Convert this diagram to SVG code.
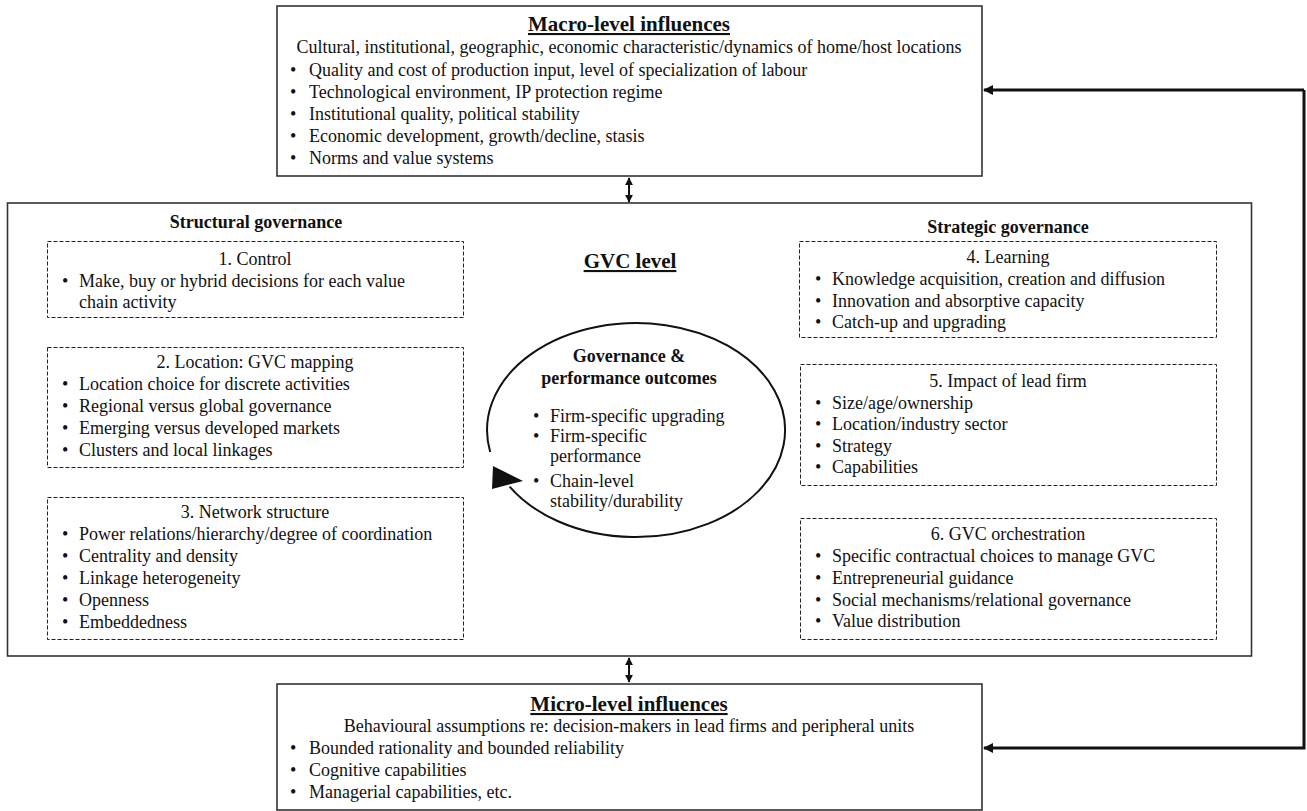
<svg xmlns="http://www.w3.org/2000/svg" width="1307" height="811" viewBox="0 0 1307 811">
<defs>
<style>
text{font-family:"Liberation Serif","Times New Roman",serif;fill:#111;}
.t{font-size:18px;}
.c{text-anchor:middle;}
.h{font-size:21px;font-weight:bold;text-decoration:underline;}
.sh{font-size:18px;font-weight:bold;}
.box{fill:#fff;stroke:#333;stroke-width:1.6;}
.dash{fill:none;stroke:#222;stroke-width:1;stroke-dasharray:4 2;}
.conn{fill:none;stroke:#111;stroke-width:3;}
.dbl{fill:none;stroke:#111;stroke-width:2;}
</style>
<marker id="ah" viewBox="0 0 10 10" refX="9" refY="5" markerUnits="userSpaceOnUse" markerWidth="11" markerHeight="10" orient="auto">
<path d="M0,0 L10,5 L0,10 Z" fill="#111"/>
</marker>
<marker id="sa" viewBox="0 0 10 10" refX="9" refY="5" markerUnits="userSpaceOnUse" markerWidth="8" markerHeight="8" orient="auto-start-reverse">
<path d="M0,0 L10,5 L0,10 Z" fill="#111"/>
</marker>
</defs>
<rect width="1307" height="811" fill="#fff"/>

<g id="macro">
<rect class="box" x="277" y="6" width="705" height="170"/>
<text class="h c" x="629" y="31">Macro-level influences</text>
<text class="t c" x="629" y="53">Cultural, institutional, geographic, economic characteristic/dynamics of home/host locations</text>
<g class="t">
<text x="290" y="76">•</text><text x="309" y="76">Quality and cost of production input, level of specialization of labour</text>
<text x="290" y="98">•</text><text x="309" y="98">Technological environment, IP protection regime</text>
<text x="290" y="120">•</text><text x="309" y="120">Institutional quality, political stability</text>
<text x="290" y="142">•</text><text x="309" y="142">Economic development, growth/decline, stasis</text>
<text x="290" y="164">•</text><text x="309" y="164">Norms and value systems</text>
</g>
</g>

<g id="gvc">
<rect class="box" x="7.5" y="203" width="1244" height="453"/>
<text class="sh c" x="256" y="228">Structural governance</text>
<text class="sh c" x="1008" y="233">Strategic governance</text>
<text class="h c" x="630" y="268">GVC level</text>
</g>

<g id="control">
<rect class="dash" x="47.5" y="241.5" width="416" height="76"/>
<text class="t c" x="255" y="265">1. Control</text>
<text class="t" x="62" y="287">•</text><text class="t" x="79" y="287">Make, buy or hybrid decisions for each value</text>
<text class="t" x="79" y="308">chain activity</text>
</g>

<g id="location">
<rect class="dash" x="47.5" y="347.5" width="416" height="120"/>
<text class="t c" x="255" y="368">2. Location: GVC mapping</text>
<g class="t">
<text x="62" y="390">•</text><text x="79" y="390">Location choice for discrete activities</text>
<text x="62" y="412">•</text><text x="79" y="412">Regional versus global governance</text>
<text x="62" y="434">•</text><text x="79" y="434">Emerging versus developed markets</text>
<text x="62" y="456">•</text><text x="79" y="456">Clusters and local linkages</text>
</g>
</g>

<g id="network">
<rect class="dash" x="47.5" y="497.5" width="416" height="142"/>
<text class="t c" x="255" y="518">3. Network structure</text>
<g class="t">
<text x="62" y="540">•</text><text x="79" y="540">Power relations/hierarchy/degree of coordination</text>
<text x="62" y="562">•</text><text x="79" y="562">Centrality and density</text>
<text x="62" y="584">•</text><text x="79" y="584">Linkage heterogeneity</text>
<text x="62" y="606">•</text><text x="79" y="606">Openness</text>
<text x="62" y="628">•</text><text x="79" y="628">Embeddedness</text>
</g>
</g>

<g id="learning">
<rect class="dash" x="799.5" y="241.5" width="417" height="96"/>
<text class="t c" x="1008" y="263">4. Learning</text>
<g class="t">
<text x="815" y="285">•</text><text x="832" y="285">Knowledge acquisition, creation and diffusion</text>
<text x="815" y="307">•</text><text x="832" y="307">Innovation and absorptive capacity</text>
<text x="815" y="328">•</text><text x="832" y="328">Catch-up and upgrading</text>
</g>
</g>

<g id="leadfirm">
<rect class="dash" x="800.5" y="364.5" width="416" height="121"/>
<text class="t c" x="1008" y="387">5. Impact of lead firm</text>
<g class="t">
<text x="815" y="409">•</text><text x="832" y="409">Size/age/ownership</text>
<text x="815" y="430">•</text><text x="832" y="430">Location/industry sector</text>
<text x="815" y="452">•</text><text x="832" y="452">Strategy</text>
<text x="815" y="473">•</text><text x="832" y="473">Capabilities</text>
</g>
</g>

<g id="orchestration">
<rect class="dash" x="800.5" y="518.5" width="416" height="121"/>
<text class="t c" x="1008" y="540">6. GVC orchestration</text>
<g class="t">
<text x="815" y="562">•</text><text x="832" y="562">Specific contractual choices to manage GVC</text>
<text x="815" y="584">•</text><text x="832" y="584">Entrepreneurial guidance</text>
<text x="815" y="606">•</text><text x="832" y="606">Social mechanisms/relational governance</text>
<text x="815" y="627">•</text><text x="832" y="627">Value distribution</text>
</g>
</g>

<g id="outcomes">
<path d="M490.2,452 A149,107 0 1 1 509.6,486.7" fill="none" stroke="#111" stroke-width="2"/>
<polygon points="493,466 492,489 523,481" fill="#111"/>
<text class="sh c" x="629" y="362">Governance &amp;</text>
<text class="sh c" x="629" y="384">performance outcomes</text>
<g class="t">
<text x="533" y="422">•</text><text x="550" y="422">Firm-specific upgrading</text>
<text x="533" y="442">•</text><text x="550" y="442">Firm-specific</text>
<text x="550" y="462">performance</text>
<text x="533" y="487">•</text><text x="550" y="487">Chain-level</text>
<text x="550" y="507">stability/durability</text>
</g>
</g>

<g id="micro">
<rect class="box" x="277" y="684" width="705" height="126"/>
<text class="h c" x="629" y="711">Micro-level influences</text>
<text class="t c" x="629" y="732">Behavioural assumptions re: decision-makers in lead firms and peripheral units</text>
<g class="t">
<text x="290" y="754">•</text><text x="309" y="754">Bounded rationality and bounded reliability</text>
<text x="290" y="776">•</text><text x="309" y="776">Cognitive capabilities</text>
<text x="290" y="798">•</text><text x="309" y="798">Managerial capabilities, etc.</text>
</g>
</g>

<g id="connectors">
<line class="dbl" x1="629" y1="178" x2="629" y2="202" marker-start="url(#sa)" marker-end="url(#sa)"/>
<line class="dbl" x1="629" y1="658" x2="629" y2="682" marker-start="url(#sa)" marker-end="url(#sa)"/>
<polyline class="conn" points="1304,90 1304,748 984,748" marker-end="url(#ah)"/>
<line class="conn" x1="1304" y1="90" x2="984" y2="90" marker-end="url(#ah)"/>
</g>
</svg>
